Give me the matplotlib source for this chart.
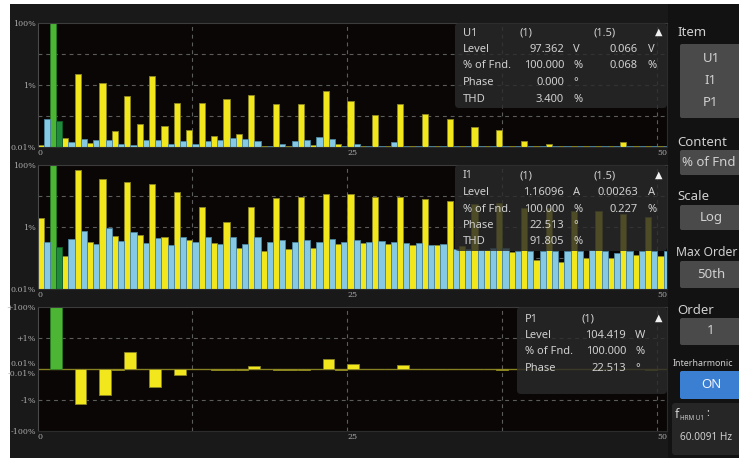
import numpy as np
import matplotlib
matplotlib.use("Agg")
import matplotlib.pyplot as plt
from matplotlib.patches import Rectangle, FancyBboxPatch
from matplotlib.ticker import NullLocator

W, H = 739, 458

# ---- harmonic / interharmonic data (% of fundamental) ----
orders = np.arange(0, 51)          # harmonic orders 0..50
inter_orders = orders + 0.5        # interharmonic orders 0.5..50.5
selected_order = 1

u1_harm = [0.011, 100, 0.019, 2.3, 0.013, 1.15, 0.031, 0.43, 0.055, 1.9,
           0.046, 0.25, 0.035, 0.25, 0.022, 0.35, 0.025, 0.48, 0.0105, 0.23,
           0.0102, 0.23, 0.0114, 0.65, 0.012, 0.29, 0.0102, 0.105, 0.0102, 0.24,
           0.0102, 0.11, 0.0102, 0.076, 0.0102, 0.043, 0.0102, 0.035, 0.0102, 0.0156,
           0.0102, 0.0124, 0.0102, 0.0102, 0.0102, 0.0102, 0.0102, 0.0138, 0.0102, 0.0102,
           0.0102]
u1_inter = [0.08, 0.068, 0.0135, 0.017, 0.016, 0.016, 0.0125, 0.011, 0.016, 0.016,
            0.012, 0.015, 0.012, 0.015, 0.0166, 0.019, 0.017, 0.0155, 0.0102, 0.012,
            0.015, 0.016, 0.0204, 0.017, 0.0105, 0.012, 0.0102, 0.0102, 0.0135, 0.0102,
            0.0102, 0.0102, 0.0102, 0.0102, 0.0102, 0.0102, 0.0102, 0.0102, 0.0102, 0.0102,
            0.0102, 0.0102, 0.0102, 0.0102, 0.0102, 0.0102, 0.0102, 0.0102, 0.0102, 0.0102,
            0.0102]

i1_harm = [1.9, 100, 0.117, 70, 0.32, 35, 0.5, 28, 0.56, 25,
           0.46, 13, 0.37, 4.3, 0.29, 1.4, 0.2, 4.4, 0.17, 8.3,
           0.19, 9.5, 0.2, 11.5, 0.27, 11.5, 0.29, 9.5, 0.27, 9.1,
           0.25, 8.2, 0.26, 6.6, 0.23, 5.4, 0.18, 5.7, 0.15, 4.0,
           0.085, 4.0, 0.07, 3.3, 0.1, 3.2, 0.095, 2.6, 0.12, 2.0,
           0.11]
i1_inter = [0.31, 0.227, 0.40, 0.74, 0.27, 0.94, 0.35, 0.70, 0.30, 0.44,
            0.25, 0.48, 0.33, 0.48, 0.28, 0.48, 0.28, 0.45, 0.32, 0.385,
            0.32, 0.38, 0.32, 0.41, 0.32, 0.38, 0.33, 0.35, 0.33, 0.29,
            0.29, 0.25, 0.27, 0.19, 0.19, 0.18, 0.20, 0.20, 0.16, 0.16,
            0.16, 0.16, 0.16, 0.16, 0.18, 0.16, 0.14, 0.16, 0.16, 0.16,
            0.16]

# signed power harmonics (% of fundamental)
p1_harm = [0, 100, 0, -1.9, 0, -0.48, -0.0115, 0.13, 0, -0.15,
           0, -0.023, 0, 0, -0.0115, -0.0115, -0.0115, 0.016, 0, -0.0115,
           -0.0115, -0.0115, 0, 0.046, -0.0115, 0.02, 0, 0, 0, 0.018,
           0, 0, 0, 0, 0, 0, 0, -0.0115, 0, 0,
           0, 0, 0, 0, 0, 0, 0, 0, 0, -0.0115,
           0]

x_ticks = [0, 25, 50]
x_grid = [12.5, 25, 37.5, 50]
log_ticks = [100, 1, 0.01]
log_tick_labels = ["100%", "1%", "0.01%"]
sym_ticks = [100, 1, -1, -100]
sym_tick_labels = ["+100%", "+1%", "-1%", "-100%"]

# ---- colours ----
YELLOW, YELLOW_EDGE = "#f2e71c", "#8a8522"
BLUE, BLUE_EDGE = "#86c9e4", "#4a86a0"
GREEN, GREEN_EDGE = "#4cb634", "#2c7d22"
DKGREEN, DKGREEN_EDGE = "#1f8b3b", "#12602a"
PLOT_BG = "#0a0606"
PANEL_BG = "#191919"
SIDE_BG = "#121212"
GRID = "#5c5c5c"
TICK_TXT = "#a8a8a8"
UI_TXT = "#d0d0d0"
UI_FONT = ["Noto Sans", "DejaVu Sans"]

plt.rcParams["font.family"] = "DejaVu Serif"

fig = plt.figure(figsize=(W / 100, H / 100), dpi=100, facecolor="white")


def px(l, t, r, b):
    return [l / W, 1 - b / H, (r - l) / W, (b - t) / H]


bg = fig.add_axes([0, 0, 1, 1], zorder=0)
bg.set_xlim(0, W)
bg.set_ylim(H, 0)
bg.axis("off")
bg.add_patch(Rectangle((10, 4), W - 10, H - 4, fc=PANEL_BG, ec="none"))
bg.add_patch(Rectangle((668, 4), W - 668, H - 4, fc=SIDE_BG, ec="none"))

XMAX = 50.77
DASH = (0, (3.5, 3.5))


def style_axes(ax):
    ax.set_facecolor(PLOT_BG)
    ax.set_xlim(0, XMAX)
    for x in x_grid:
        ax.axvline(x, color=GRID, lw=0.8, ls=DASH, zorder=0.5)
    ax.set_xticks(x_ticks, [str(t) for t in x_ticks])
    ax.tick_params(axis="x", length=0, pad=1.5, labelsize=5.8, labelcolor=TICK_TXT)
    ax.tick_params(axis="y", length=0, pad=1.0, labelsize=5.8, labelcolor=TICK_TXT)
    for lbl in ax.get_xticklabels():
        lbl.set_ha("left")
    ax.spines["top"].set_color("#3c3c3c")
    ax.spines["left"].set_color("#4a4a4a")
    ax.spines["right"].set_color("#2c2c2c")
    ax.spines["bottom"].set_color("#2c2c2c")
    for s in ax.spines.values():
        s.set_linewidth(0.8)


def harmonic_panel(rect, harm, inter):
    ax = fig.add_axes(px(*rect), zorder=1)
    style_axes(ax)
    ax.set_yscale("log")
    ax.set_ylim(0.01, 100)
    for y in (10, 1, 0.1):
        ax.axhline(y, color=GRID, lw=0.8, ls=DASH, zorder=0.5)
    floor = 1e-3
    hsel = orders == selected_order
    isel = inter_orders == selected_order + 0.5
    ax.bar(orders, np.asarray(harm) - floor, bottom=floor, width=0.5, align="edge",
           color=[GREEN if s else YELLOW for s in hsel],
           edgecolor=[GREEN_EDGE if s else YELLOW_EDGE for s in hsel],
           linewidth=0.6, zorder=2)
    ax.bar(inter_orders, np.asarray(inter) - floor, bottom=floor, width=0.5, align="edge",
           color=[DKGREEN if s else BLUE for s in isel],
           edgecolor=[DKGREEN_EDGE if s else BLUE_EDGE for s in isel],
           linewidth=0.6, zorder=2)
    ax.set_yticks(log_ticks, log_tick_labels)
    ax.yaxis.set_minor_locator(NullLocator())
    return ax


harmonic_panel((37.5, 23, 667, 146.5), u1_harm, u1_inter)
harmonic_panel((37.5, 165, 667, 288.5), i1_harm, i1_inter)


# signed log scale: +/-0.01 % collapses to the centre line
def sym_fwd(v):
    v = np.asarray(v, dtype=float)
    a = np.abs(v)
    t = np.where(a >= 0.01, np.log10(np.maximum(a, 1e-12)) + 2, 0.0)
    return np.sign(v) * t


def sym_inv(t):
    t = np.asarray(t, dtype=float)
    return np.sign(t) * 10 ** (np.abs(t) - 2)


ax3 = fig.add_axes(px(37.5, 307, 667, 431), zorder=1)
style_axes(ax3)
ax3.set_yscale("function", functions=(sym_fwd, sym_inv))
ax3.set_ylim(-100, 100)
for y in (1, -1):
    ax3.axhline(y, color=GRID, lw=0.8, ls=DASH, zorder=0.5)
ax3.axhline(0, color="#7d7620", lw=1.0, zorder=1.5)
psel = orders == selected_order
ax3.bar(orders, p1_harm, width=0.95, align="edge",
        color=[GREEN if s else YELLOW for s in psel],
        edgecolor=[GREEN_EDGE if s else YELLOW_EDGE for s in psel],
        linewidth=0.6, zorder=2)
ax3.set_yticks(sym_ticks, sym_tick_labels)
ax3.yaxis.set_minor_locator(NullLocator())
for lab, dy in (("0.01%", 4.5), ("-0.01%", -5.5)):
    ax3.annotate(lab, xy=(0, 0), xycoords=("axes fraction", "data"),
                 xytext=(-1.3, dy), textcoords="offset pixels",
                 ha="right", va="center", fontsize=5.8, color=TICK_TXT)

# ---- overlay: cursor read-outs and side menu ----
ov = fig.add_axes([0, 0, 1, 1], zorder=5)
ov.set_xlim(0, W)
ov.set_ylim(H, 0)
ov.axis("off")
ov.patch.set_alpha(0)


def ui_text(x, y, s, size=8, ha="left", color=UI_TXT, **kw):
    ov.text(x, y, s, fontsize=size, ha=ha, va="center", color=color,
            family=UI_FONT, **kw)


def info_box(x0, y0, x1, y1):
    ov.add_patch(FancyBboxPatch((x0, y0), x1 - x0, y1 - y0,
                                boxstyle="round,pad=0,rounding_size=4",
                                fc="#2a2a2a", ec="none", alpha=0.82))


def readout(x0, y0, x1, y1, rows, head, second=True):
    info_box(x0, y0, x1, y1)
    lx = x0 + 8
    ys = rows[0]
    ui_text(lx, ys, head[0])
    ui_text(lx + 56, ys, head[1])
    if second:
        ui_text(lx + 130, ys, head[2])
    ui_text(x1 - 8, ys - 1, "▲", size=7, ha="center", color="#f0f0f0")
    for y, r in zip(rows[1:], head[3]):
        ui_text(lx, y, r[0])
        ui_text(lx + 101, y, r[1], ha="right")
        ui_text(lx + 110, y, r[2])
        if len(r) > 3:
            ui_text(lx + 175, y, r[3], ha="right")
            ui_text(lx + 185, y, r[4])


readout(455, 23, 667, 108, [33, 49.5, 66, 82.5, 99],
        ("U1", "(1)", "(1.5)",
         [("Level", "97.362", "V", "0.066", "V"),
          ("% of Fnd.", "100.000", "%", "0.068", "%"),
          ("Phase", "0.000", "°"),
          ("THD", "3.400", "%")]))
readout(455, 165, 667, 251, [176, 192.5, 209, 225.5, 242],
        ("I1", "(1)", "(1.5)",
         [("Level", "1.16096", "A", "0.00263", "A"),
          ("% of Fnd.", "100.000", "%", "0.227", "%"),
          ("Phase", "22.513", "°"),
          ("THD", "91.805", "%")]))
readout(517, 307, 667, 394, [319, 335.5, 352, 368.5],
        ("P1", "(1)", "",
         [("Level", "104.419", "W"),
          ("% of Fnd.", "100.000", "%"),
          ("Phase", "22.513", "°")]), second=False)


def button(y0, y1, fc="#4a4a4a"):
    ov.add_patch(FancyBboxPatch((680, y0), 70, y1 - y0,
                                boxstyle="round,pad=0,rounding_size=2",
                                fc=fc, ec="none"))


ui_text(677, 33, "Item", 9.5)
button(44, 118)
for y, s in ((59, "U1"), (81, "I1"), (103, "P1")):
    ui_text(711, y, s, 9.5, ha="center")

ui_text(677, 142, "Content", 9.5)
button(150, 175)
ui_text(682, 162, "% of Fnd", 9.5)

ui_text(677, 197, "Scale", 9.5)
button(205, 230)
ui_text(711, 218, "Log", 9.5, ha="center")

ui_text(676, 253, "Max Order", 8.8)
button(261, 288)
ui_text(711, 274, "50th", 9.5, ha="center")

ui_text(677, 310, "Order", 9.5)
button(318, 345)
ui_text(711, 331, "1", 9.5, ha="center")

ui_text(673, 363, "Interharmonic", 6.4)
button(371, 399, fc="#3b7fd3")
ui_text(711, 385, "ON", 9.5, ha="center", color="#eef4ff")

ov.add_patch(FancyBboxPatch((672, 403), 80, 52,
                            boxstyle="round,pad=0,rounding_size=3",
                            fc="#262626", ec="none"))
ui_text(675, 414, "f", 9)
ui_text(680, 418, "HRM U1", 4.5)
ui_text(706, 413, ":", 8)
ui_text(680, 437, "60.0091 Hz", 7.2)

fig.savefig("out.png", dpi=100, facecolor="white")
